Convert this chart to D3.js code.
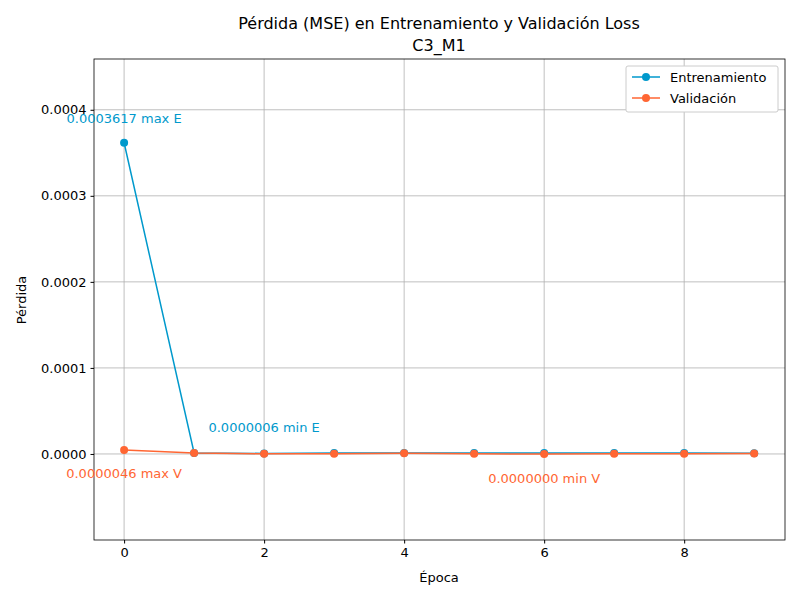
<!DOCTYPE html><html><head><meta charset="utf-8"><script src="https://cdn.jsdelivr.net/npm/d3@7"></script>
<style>body{margin:0;background:#fff}text{font-family:"DejaVu Sans",sans-serif}</style></head><body><svg id="c" width="800" height="600"></svg>
<script>
const epochs=[0,1,2,3,4,5,6,7,8,9];
const train=[0.0003617,0.0000012,0.0000006,0.0000010,0.0000011,0.0000010,0.0000010,0.0000010,0.0000010,0.0000008];
const val=[0.0000046,0.0000012,0.0000002,0.0000001,0.0000008,0.0000001,0.0000000,0.0000001,0.0000001,0.0000005];
const yTicks=[0,0.0001,0.0002,0.0003,0.0004];
const xTicks=[0,2,4,6,8];
const cT="#0099cc",cV="#ff6633";
const svg=d3.select("#c");
const L=94,R=785,T=59,B=540;
const x=d3.scaleLinear().domain([-0.43,9.44]).range([L,R]);
const y=d3.scaleLinear().domain([-0.0001,0.000459]).range([B,T]);
const g=svg.append("g");
xTicks.forEach(t=>g.append("line").attr("x1",x(t)).attr("x2",x(t)).attr("y1",T).attr("y2",B).attr("stroke","#b0b0b0").attr("stroke-width",0.8));
yTicks.forEach(t=>g.append("line").attr("x1",L).attr("x2",R).attr("y1",y(t)).attr("y2",y(t)).attr("stroke","#b0b0b0").attr("stroke-width",0.8));
svg.append("g").attr("transform",`translate(0,${B})`).call(d3.axisBottom(x).tickValues(xTicks).tickSize(3.5).tickPadding(4)).call(a=>{a.select(".domain").remove();a.selectAll("text").attr("font-size",13).attr("fill","#000")});
svg.append("g").attr("transform",`translate(${L},0)`).call(d3.axisLeft(y).tickValues(yTicks).tickFormat(d3.format(".4f")).tickSize(3.5).tickPadding(4)).call(a=>{a.select(".domain").remove();a.selectAll("text").attr("font-size",13).attr("fill","#000")});
svg.append("rect").attr("x",L).attr("y",T).attr("width",R-L).attr("height",B-T).attr("fill","none").attr("stroke","#000").attr("stroke-width",0.8);
const line=d3.line().x((d,i)=>x(epochs[i])).y(d=>y(d));
[[train,cT],[val,cV]].forEach(([s,c])=>{
 svg.append("path").attr("d",line(s)).attr("fill","none").attr("stroke",c).attr("stroke-width",1.5);
 svg.selectAll(null).data(s).enter().append("circle").attr("cx",(d,i)=>x(epochs[i])).attr("cy",d=>y(d)).attr("r",4).attr("fill",c);
});
function ann(t,ex,v,dy,c){svg.append("text").attr("x",x(ex)).attr("y",y(v)+dy).attr("text-anchor","middle").attr("font-size",13).attr("fill",c).text(t);}
ann("0.0003617 max E",0,train[0],-20,cT);
ann("0.0000006 min E",2,train[2],-21,cT);
ann("0.0000046 max V",0,val[0],28,cV);
ann("0.0000000 min V",6,val[6],29,cV);
svg.append("text").attr("x",439).attr("y",29).attr("text-anchor","middle").attr("font-size",16).text("Pérdida (MSE) en Entrenamiento y Validación Loss");
svg.append("text").attr("x",439).attr("y",51).attr("text-anchor","middle").attr("font-size",16).text("C3_M1");
svg.append("text").attr("x",439).attr("y",582).attr("text-anchor","middle").attr("font-size",13).text("Época");
svg.append("text").attr("transform","translate(26,300) rotate(-90)").attr("text-anchor","middle").attr("font-size",13).text("Pérdida");
const lg=svg.append("g").attr("transform","translate(626,66)");
lg.append("rect").attr("width",152).attr("height",46).attr("rx",2).attr("fill","#fff").attr("stroke","#ccc");
[["Entrenamiento",cT],["Validación",cV]].forEach(([t,c],i)=>{
 const yy=11+i*21;
 lg.append("line").attr("x1",6).attr("x2",34).attr("y1",yy).attr("y2",yy).attr("stroke",c).attr("stroke-width",1.5);
 lg.append("circle").attr("cx",20).attr("cy",yy).attr("r",4).attr("fill",c);
 lg.append("text").attr("x",44).attr("y",yy+5).attr("font-size",13).text(t);
});
</script></body></html>
